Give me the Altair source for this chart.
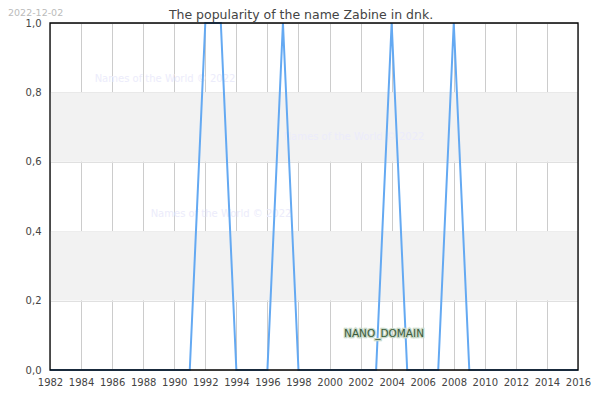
import altair as alt
import pandas as pd

years = list(range(1982, 2017))
peak_years = [1992, 1993, 1997, 2004, 2008]
values = [1.0 if y in peak_years else 0.0 for y in years]

band_start = [0.2, 0.6]
band_end = [0.4, 0.8]

title_text = "The popularity of the name Zabine in dnk."
date_text = "2022-12-02"
watermark = "Names of the World © 2022"
nano = "NANO_DOMAIN"

df = pd.DataFrame({"year": years, "value": values})
bands = pd.DataFrame({"y": band_start, "y2": band_end})

FONT = "DejaVu Sans"
W, H = 528, 347

x_axis = alt.Axis(values=list(range(1982, 2017, 2)), format="d", title=None,
                  grid=True, gridColor="#cccccc", ticks=False, domain=False,
                  labelPadding=7, labelFontSize=10, labelColor="#444444",
                  labelFont=FONT, labelFlush=False, labelOverlap=False)
y_axis = alt.Axis(values=[0, 0.2, 0.4, 0.6, 0.8, 1.0], title=None,
                  labelExpr="replace(format(datum.value, '.1f'), '.', ',')",
                  grid=True, gridColor="#e0e0e0", ticks=False, domain=False,
                  labelPadding=9, labelFontSize=10, labelColor="#444444",
                  labelFont=FONT)
x_scale = alt.Scale(domain=[1982, 2016], nice=False, zero=False)
y_scale = alt.Scale(domain=[0, 1], nice=False)

band_layer = alt.Chart(bands).mark_rect(color="#f2f2f2").encode(
    x=alt.value(0), x2=alt.value(W),
    y=alt.Y("y:Q", scale=y_scale, axis=y_axis),
    y2="y2:Q",
)

line_layer = alt.Chart(df).mark_line(color="#64a9f2", strokeWidth=2).encode(
    x=alt.X("year:Q", scale=x_scale, axis=x_axis),
    y=alt.Y("value:Q", scale=y_scale, axis=y_axis))

frame_layer = alt.Chart(pd.DataFrame({"a": [0]})).mark_rect(
    fillOpacity=0, stroke="#000000", strokeWidth=1.3).encode(
    x=alt.value(0), x2=alt.value(W), y=alt.value(0), y2=alt.value(H))

def txt(text, x, y, **kw):
    return alt.Chart(pd.DataFrame({"t": [text]})).mark_text(font=FONT, **kw).encode(
        x=alt.value(x), y=alt.value(y), text="t:N")

wm_color = "#ececfb"
layers = [
    band_layer,
    txt(watermark, 115, 56, fontSize=10, color=wm_color, baseline="middle"),
    txt(watermark, 304, 114, fontSize=10, color=wm_color, baseline="middle"),
    txt(watermark, 171, 191, fontSize=10, color=wm_color, baseline="middle"),
    line_layer,
    frame_layer,
    txt(nano, 334, 311, fontSize=10.5, color="#3b5b3b", stroke="#c9d9c9", strokeWidth=2.5,
        baseline="middle"),
    txt(nano, 334, 311, fontSize=10.5, color="#3b5b3b", baseline="middle"),
    txt(title_text, 251, -8, fontSize=12.5, color="#444444", baseline="middle"),
    txt(date_text, -42, -15, fontSize=9.5, color="#bbbbbb", baseline="top", align="left"),
]

chart = alt.layer(*layers).properties(
    width=W, height=H,
    background="white",
    autosize=alt.AutoSizeParams(type="none"),
    padding={"left": 42, "top": 15, "right": 14, "bottom": 22},
).configure_view(stroke=None)

chart.save("out.html", embed_options={"renderer": "svg", "actions": False})
